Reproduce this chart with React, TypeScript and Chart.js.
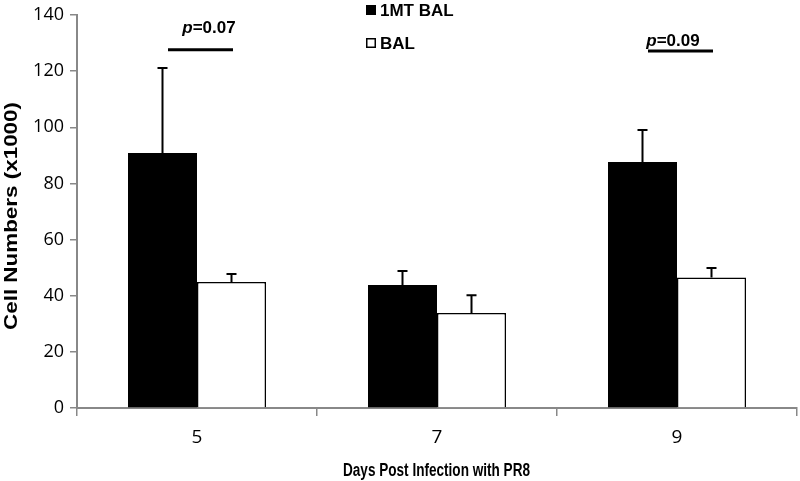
import React, { useEffect, useRef } from "react";
import { Chart, registerables } from "chart.js";

Chart.register(...registerables);

const categories = ["5", "7", "9"];
const seriesNames = ["1MT BAL", "BAL"];
const mtBal = [90.8, 43.8, 87.6];
const mtBalErr = [30.3, 5.0, 11.4];
const bal = [44.9, 33.8, 46.5];
const balErr = [2.8, 6.4, 3.4];
const yTicks = [0, 20, 40, 60, 80, 100, 120, 140];
const xTitle = "Days Post Infection with PR8";
const yTitle = "Cell Numbers (x1000)";
const pLabels = [
  { cat: 0, y: 127.6, value: "=0.07" },
  { cat: 2, y: 127.2, value: "=0.09" },
];
const pTextGap = [21, 10];
const pTextShift = [0, -16];

const BOLD = "'Liberation Sans', Arial, sans-serif";
const TICK = "'Open Sans', 'Noto Sans', sans-serif";

function drawFitted(
  ctx: CanvasRenderingContext2D,
  text: string,
  cx: number,
  baseY: number,
  font: string,
  targetWidth: number,
  rot: number
) {
  ctx.save();
  ctx.font = font;
  const w = ctx.measureText(text).width;
  ctx.translate(cx, baseY);
  ctx.rotate(rot);
  ctx.scale(targetWidth / w, 1);
  ctx.textAlign = "center";
  ctx.textBaseline = "alphabetic";
  ctx.fillStyle = "#000";
  ctx.fillText(text, 0, 0);
  ctx.restore();
}

const overlayPlugin = {
  id: "overlay",
  afterDatasetsDraw(chart: any) {
    const ctx = chart.ctx;
    const x = chart.scales.x;
    const y = chart.scales.y;
    ctx.save();
    // error bars
    const errs = [mtBalErr, balErr];
    const vals = [mtBal, bal];
    for (let d = 0; d < 2; d++) {
      const meta = chart.getDatasetMeta(d);
      meta.data.forEach((bar: any, i: number) => {
        const top = y.getPixelForValue(vals[d][i]);
        const end = y.getPixelForValue(vals[d][i] + errs[d][i]);
        ctx.strokeStyle = "#000";
        ctx.lineWidth = 2;
        ctx.beginPath();
        ctx.moveTo(bar.x, top);
        ctx.lineTo(bar.x, end);
        ctx.moveTo(bar.x - 5, end);
        ctx.lineTo(bar.x + 5, end);
        ctx.stroke();
      });
    }
    // p annotations
    pLabels.forEach((p, k) => {
      const cx = x.getPixelForValue(p.cat);
      const ly = y.getPixelForValue(p.y);
      ctx.strokeStyle = "#000";
      ctx.lineWidth = 3;
      ctx.beginPath();
      ctx.moveTo(cx - 29, ly);
      ctx.lineTo(cx + 36, ly);
      ctx.stroke();
      ctx.fillStyle = "#000";
      ctx.textBaseline = "middle";
      ctx.font = `italic bold 17px ${BOLD}`;
      const pw = ctx.measureText("p").width;
      ctx.font = `bold 17px ${BOLD}`;
      const vw = ctx.measureText(p.value).width;
      const startX = cx + 12 - (pw + vw) / 2 + pTextShift[k];
      const ty = ly - pTextGap[k];
      ctx.textAlign = "left";
      ctx.font = `italic bold 17px ${BOLD}`;
      ctx.fillText("p", startX, ty);
      ctx.font = `bold 17px ${BOLD}`;
      ctx.fillText(p.value, startX + pw, ty);
    });
    // legend
    const lx = 366;
    const lys = [10, 43];
    ctx.font = `bold 17px ${BOLD}`;
    ctx.textAlign = "left";
    ctx.textBaseline = "middle";
    seriesNames.forEach((name, i) => {
      const ly = lys[i];
      if (i === 0) {
        ctx.fillStyle = "#000";
        ctx.fillRect(lx, ly - 5, 10, 10);
      } else {
        ctx.fillStyle = "#fff";
        ctx.fillRect(lx, ly - 5, 10, 10);
        ctx.strokeStyle = "#000";
        ctx.lineWidth = 1.5;
        ctx.strokeRect(lx + 0.75, ly - 4.25, 8.5, 8.5);
      }
      ctx.fillStyle = "#000";
      ctx.fillText(name, lx + 14, ly + 1);
    });
    ctx.restore();
    // axis titles
    drawFitted(ctx, xTitle, 436.5, 476, `bold 18px ${BOLD}`, 187, 0);
    drawFitted(ctx, yTitle, 17, 216, `bold 18px ${BOLD}`, 228, -Math.PI / 2);
  },
};

export default function App() {
  const ref = useRef<HTMLCanvasElement>(null);
  useEffect(() => {
    document.body.style.margin = "0";
    const chart = new Chart(ref.current!, {
      type: "bar",
      data: {
        labels: categories,
        datasets: [
          {
            label: seriesNames[0],
            data: mtBal,
            backgroundColor: "#000",
            borderColor: "#000",
            borderWidth: 0,
            barPercentage: 1,
            categoryPercentage: 0.575,
          },
          {
            label: seriesNames[1],
            data: bal,
            backgroundColor: "#fff",
            borderColor: "#000",
            borderWidth: 1.5,
            barPercentage: 1,
            categoryPercentage: 0.575,
          },
        ],
      },
      options: {
        animation: false,
        responsive: false,
        devicePixelRatio: 1,
        layout: { padding: { top: 15, right: 3, left: 0, bottom: 0 } },
        plugins: { legend: { display: false }, tooltip: { enabled: false } },
        scales: {
          x: {
            grid: {
              offset: true,
              drawOnChartArea: false,
              drawTicks: true,
              tickLength: 8,
              color: "#888",
              lineWidth: 1.5,
            },
            border: { color: "#888", width: 2 },
            ticks: { color: "#000", font: { family: TICK, size: 19, lineHeight: 1 }, padding: 12 },
            title: { display: false },
            afterFit: (s: any) => {
              s.height = 73;
            },
          },
          y: {
            min: 0,
            max: 140,
            afterBuildTicks: (s: any) => {
              s.ticks = yTicks.map((v) => ({ value: v }));
            },
            grid: {
              drawOnChartArea: false,
              drawTicks: true,
              tickLength: 7,
              color: "#888",
              lineWidth: 1.5,
            },
            border: { color: "#888", width: 2 },
            ticks: { color: "#000", font: { family: TICK, size: 18, lineHeight: 1 }, padding: 6 },
            title: { display: false },
            afterFit: (s: any) => {
              s.width = 77;
            },
          },
        },
      },
      plugins: [overlayPlugin],
    });
    return () => chart.destroy();
  }, []);
  return <canvas ref={ref} width={800} height={481} style={{ display: "block" }} />;
}
